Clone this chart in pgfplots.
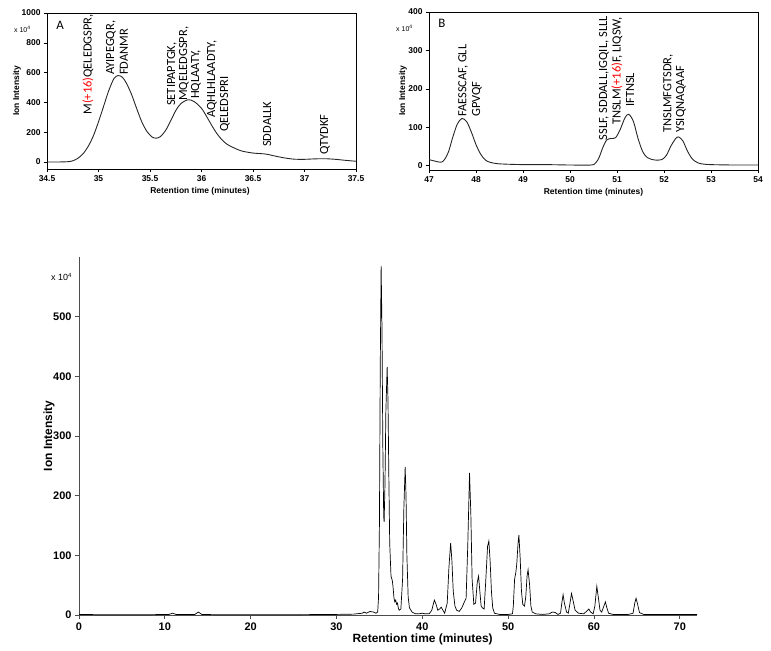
\documentclass[border=0pt]{standalone}
\usepackage{pgfplots}
\pgfplotsset{compat=1.18}
\usepackage{fontspec}
\setmainfont{Liberation Sans}
\newfontfamily\calfont{Carlito}
\newcommand\ann{\calfont\fontsize{12.5}{13}\selectfont}
\pgfplotsset{
  boldticks/.style={
    /pgf/number format/assume math mode=true,
    /pgf/number format/1000 sep={},
    xticklabel={\textbf{\pgfmathprintnumber{\tick}}},
    yticklabel={\textbf{\pgfmathprintnumber{\tick}}},
  }
}
\begin{document}
\begin{tikzpicture}
\path[use as bounding box] (0bp,0bp) rectangle (771bp,-651bp);
% ---------------- Panel A ----------------
\begin{axis}[
  at={(47bp,-169bp)}, anchor=south west, scale only axis,
  width=309bp, height=156bp,
  xmin=34.5, xmax=37.5, ymin=-47, ymax=1000,
  xtick={34.5,35,35.5,36,36.5,37,37.5}, ytick={0,200,400,600,800,1000},
  tick pos=left, tick align=outside, major tick length=3bp,
  tick style={black, line width=0.6pt},
  axis line style={line width=0.7pt},
  scaled ticks=false, boldticks,
  ticklabel style={font=\fontsize{8.5}{9}\selectfont},
  xlabel={Retention time (minutes)}, ylabel={Ion Intensity},
  label style={font=\fontsize{8.5}{10}\selectfont\bfseries},
  xlabel style={at={(axis description cs:0.495,-0.14)}, anchor=center},
  ylabel style={at={(axis description cs:-0.097,0.5)}, anchor=center},
]
\addplot[smooth, black!85, line width=0.9pt] coordinates {
(34.5,0) (34.6,0) (34.7,2) (34.75,8) (34.8,25) (34.85,55) (34.9,105) (34.95,175)
(35.0,270) (35.05,375) (35.1,480) (35.15,560) (35.19,580) (35.23,570) (35.27,530)
(35.32,455) (35.37,360) (35.42,270) (35.47,205) (35.52,168) (35.56,160) (35.6,170)
(35.65,210) (35.7,275) (35.75,345) (35.8,392) (35.87,418) (35.93,405) (36.0,360)
(36.05,305) (36.1,245) (36.15,190) (36.2,148) (36.25,118) (36.3,100) (36.35,84)
(36.4,72) (36.5,60) (36.6,55) (36.65,50) (36.7,42) (36.8,28) (36.9,19) (37.0,18)
(37.1,21) (37.2,22) (37.3,18) (37.4,11) (37.5,5)};
\end{axis}
% ---------------- Panel B ----------------
\begin{axis}[
  at={(429bp,-170bp)}, anchor=south west, scale only axis,
  width=329bp, height=158bp,
  xmin=47, xmax=54, ymin=-11, ymax=400,
  xtick={47,48,...,54}, ytick={0,100,...,400},
  tick pos=left, tick align=outside, major tick length=3bp,
  tick style={black, line width=0.6pt},
  axis line style={line width=0.7pt},
  scaled ticks=false, boldticks,
  ticklabel style={font=\fontsize{8.5}{9}\selectfont},
  xlabel={Retention time (minutes)}, ylabel={Ion Intensity},
  label style={font=\fontsize{8.5}{10}\selectfont\bfseries},
  xlabel style={at={(axis description cs:0.5,-0.139)}, anchor=center},
  ylabel style={at={(axis description cs:-0.079,0.5)}, anchor=center},
]
\addplot[smooth, black!85, line width=0.9pt] coordinates {
(47.0,16) (47.1,13) (47.2,10) (47.28,10) (47.35,20) (47.42,38) (47.5,72) (47.6,108)
(47.7,123) (47.8,115) (47.9,88) (48.0,55) (48.1,30) (48.2,15) (48.3,9) (48.5,5)
(49,3) (49.5,3) (50,2) (50.45,2) (50.55,8) (50.62,22) (50.7,48) (50.78,67) (50.87,71)
(50.97,73) (51.07,95) (51.17,125) (51.25,134) (51.35,115) (51.45,70) (51.55,36)
(51.65,21) (51.8,15) (51.95,16) (52.05,27) (52.15,52) (52.25,71) (52.31,75) (52.4,65)
(52.5,38) (52.6,18) (52.7,9) (52.8,5) (53,3) (53.5,2) (54,2)};
\end{axis}
% ---------------- Main panel ----------------
\begin{axis}[
  at={(79bp,-615bp)}, anchor=south west, scale only axis,
  width=618bp, height=358bp,
  xmin=0, xmax=72, ymin=0, ymax=600,
  axis lines*=left,
  xtick={0,10,...,70}, ytick={0,100,...,500},
  tick align=outside, major tick length=4bp,
  tick style={black!70, line width=0.8pt},
  axis line style={black!70, line width=1pt},
  scaled ticks=false, boldticks,
  ticklabel style={font=\fontsize{11}{12}\selectfont},
  xlabel={Retention time (minutes)}, ylabel={Ion Intensity},
  label style={font=\fontsize{12}{13}\selectfont\bfseries},
  xlabel style={at={(axis description cs:0.556,-0.067)}, anchor=center},
  ylabel style={at={(axis description cs:-0.0485,0.5)}, anchor=center},
]
\addplot[black, line width=0.7pt] coordinates {
(0,1) (1,1) (2,0.5) (5,0.5) (8,0.5) (10.5,1) (10.9,3) (11.3,1) (13.5,1) (13.9,5) (14.3,1)
(16,0.5) (20,0.5) (25,0.5) (30,1) (32,1.5) (33,3) (33.2,5) (33.5,3) (33.9,6) (34.3,5)
(34.6,3) (34.8,5) (34.9,30) (35.0,150) (35.1,420) (35.2,585) (35.3,480) (35.4,280)
(35.5,165) (35.55,156) (35.65,220) (35.75,340) (35.9,416) (36.0,360) (36.1,230)
(36.2,120) (36.35,65) (36.5,58) (36.6,45) (36.7,28) (36.8,22) (36.9,25) (37.0,18)
(37.1,20) (37.2,12) (37.3,8) (37.5,10) (37.7,60) (37.85,180) (38.0,248) (38.1,200)
(38.2,100) (38.35,30) (38.5,12) (38.8,5) (39.2,2) (39.6,2) (40,3) (40.3,2) (40.8,2)
(41.1,8) (41.4,25) (41.6,18) (41.8,8) (42.0,10) (42.2,13) (42.4,8) (42.6,3) (42.9,20)
(43.1,80) (43.3,121) (43.45,90) (43.6,40) (43.8,15) (44.0,8) (44.3,6) (44.6,12)
(44.9,22) (45.1,28) (45.3,120) (45.5,238) (45.65,170) (45.8,60) (46.0,18) (46.2,20)
(46.4,55) (46.55,65) (46.7,40) (46.85,15) (47.0,12) (47.2,10) (47.4,60) (47.6,115)
(47.75,124) (47.9,90) (48.05,40) (48.2,12) (48.4,3) (49,1) (50,1) (50.5,2) (50.6,15)
(50.75,60) (50.9,72) (51.0,85) (51.15,120) (51.25,134) (51.4,95) (51.55,40) (51.7,18)
(51.9,15) (52.05,30) (52.2,65) (52.32,76) (52.5,50) (52.65,15) (52.8,5) (53.2,2)
(54,1) (54.8,2) (55.0,4) (55.2,5) (55.5,4) (55.8,1) (56.1,3) (56.25,20) (56.4,34)
(56.55,20) (56.8,5) (57.0,3) (57.15,15) (57.38,36) (57.55,25) (57.8,8) (58.2,3)
(58.8,2) (59.2,7) (59.4,10) (59.6,5) (59.9,2) (60.1,15) (60.33,48) (60.5,30) (60.7,8)
(60.9,5) (61.15,15) (61.33,22) (61.5,12) (61.7,3) (62.2,1) (63,1) (64,1) (64.55,3)
(64.75,20) (64.9,28) (65.05,20) (65.3,4) (65.8,1) (68,1) (72,1)};
\end{axis}
% ---------------- texts ----------------
\node[font=\fontsize{7}{8}\selectfont, anchor=west, inner sep=0] at (14bp,-29bp) {x 10\textsuperscript{4}};
\node[font=\fontsize{7}{8}\selectfont, anchor=west, inner sep=0] at (396bp,-28bp) {x 10\textsuperscript{4}};
\node[font=\fontsize{9}{10}\selectfont, anchor=west, inner sep=0] at (51bp,-277bp) {x 10\textsuperscript{4}};
\node[font=\calfont\fontsize{13}{14}\selectfont, inner sep=0] at (60bp,-25bp) {A};
\node[font=\calfont\fontsize{13}{14}\selectfont, inner sep=0] at (442bp,-23bp) {B};
% Panel A annotations
\begin{scope}[every node/.style={rotate=90, inner sep=0, font=\ann}]
\node[anchor=east] at (88bp,-14bp) {M\textcolor{red}{(+16)}QELEDGSPR,};
\node[anchor=west] at (111bp,-75bp) {AYIPEGQR,};
\node[anchor=west] at (124bp,-75bp) {FDANMR};
\node[anchor=west] at (172bp,-106bp) {SETIPAPTGK,};
\node[anchor=west] at (184bp,-101bp) {MQELEDGSPR,};
\node[anchor=west] at (196bp,-99bp) {HQLAATY,};
\node[anchor=west] at (212bp,-118bp) {AQHLHLAADTY,};
\node[anchor=west] at (225bp,-132bp) {QELEDSPRI};
\node[anchor=west] at (267bp,-147bp) {SDDALLK};
\node[anchor=west] at (325bp,-155bp) {QTYDKF};
% Panel B annotations
\node[anchor=west] at (463bp,-117bp) {FAESSCAF, GLL};
\node[anchor=west] at (477bp,-117bp) {GPVQF};
\node[anchor=east] at (604bp,-16bp) {SSLF, SDDALL,IGQIL, SLLL};
\node[anchor=east] at (617bp,-17bp) {TNSLM\textcolor{red}{(+16)}F, LIQSW,};
\node[anchor=west] at (630bp,-107bp) {IFTNSL};
\node[anchor=west] at (668bp,-133bp) {TNSLMFGTSDR,};
\node[anchor=west] at (681bp,-133bp) {YSIQNAQAAF};
\end{scope}
\end{tikzpicture}
\end{document}
